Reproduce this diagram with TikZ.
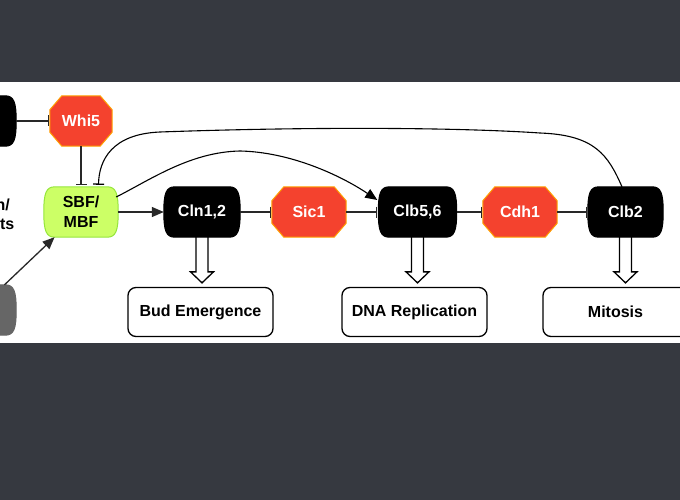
\documentclass[tikz,border=0pt]{standalone}
\usepackage{fontspec}
\setmainfont{Liberation Sans}
\usetikzlibrary{arrows.meta,calc}
\pgfdeclarelayer{background}
\pgfsetlayers{background,main}
\definecolor{bgdark}{RGB}{54,57,64}
\definecolor{octred}{RGB}{244,66,46}
\definecolor{octline}{RGB}{255,160,0}
\definecolor{sbfgreen}{RGB}{204,255,102}
\definecolor{sbfline}{RGB}{150,230,60}
\definecolor{graynode}{RGB}{102,102,102}
\definecolor{linegray}{RGB}{40,40,40}
\begin{document}
\begin{tikzpicture}[x=1pt,y=1pt,
  lbl/.style={font=\fontsize{16}{20}\selectfont\bfseries, inner sep=0pt, align=center},
  core/.style={lbl, minimum height=50pt, text=white},
  outbox/.style={lbl, draw=black, line width=1.3pt, rounded corners=8pt, minimum width=145pt, minimum height=49pt},
  conn/.style={line width=1.3pt, draw=linegray},
  act/.style={conn, -{Triangle[length=12pt,width=10pt]}},
  inh/.style={conn, -{Bar[width=11pt]}},
  thin/.style={line width=1.1pt, draw=black},
  hollow/.style={line width=1.3pt, draw=black, line join=miter}]
\useasboundingbox (0,0) rectangle (680,-500);

% nodes
\node[core, minimum width=76pt] (lblack) at (-22,-121) {};
\node[core, minimum width=62pt] (whi5) at (81,-121) {Whi5};
\node[core, minimum width=74pt, text=black] (sbf) at (81,-212) {SBF/\\MBF};
\node[core, minimum width=76pt] (gray) at (-22,-310) {};
\node[core, minimum width=76pt] (cln) at (202,-212) {Cln1,2};
\node[core, minimum width=74pt] (sic1) at (309,-212) {Sic1};
\node[core, minimum width=78pt] (clb56) at (417.5,-212) {Clb5,6};
\node[core, minimum width=74pt] (cdh1) at (520,-212) {Cdh1};
\node[core, minimum width=75pt] (clb2) at (625.5,-212) {Clb2};
\node[outbox] (bud) at (200.5,-312) {Bud Emergence};
\node[outbox] (dna) at (414.5,-312) {DNA Replication};
\node[outbox] (mit) at (615.5,-312) {Mitosis};
\node[lbl, anchor=base east] (txta) at (10,-210) {n/};
\node[lbl, anchor=base east] (txtb) at (14.5,-229) {ts};

\begin{pgfonlayer}{background}
  \fill[bgdark] (0,0) rectangle (680,-500);
  \fill[white] (0,-82) rectangle (680,-343);
  \foreach \n/\c/\d in {lblack/black/black, sbf/sbfgreen/sbfline, gray/graynode/graynode, cln/black/black, clb56/black/black, clb2/black/black}{
    \path[fill=\c, draw=\d, line width=1pt]
      ($(\n.north west)+(11,0)$) -- ($(\n.north east)+(-11,0)$)
      .. controls +(9,0) and +(0,18) .. (\n.east)
      .. controls +(0,-18) and +(9,0) .. ($(\n.south east)+(-11,0)$)
      -- ($(\n.south west)+(11,0)$)
      .. controls +(-9,0) and +(0,-18) .. (\n.west)
      .. controls +(0,18) and +(-9,0) .. ($(\n.north west)+(11,0)$) -- cycle;
  }
  \foreach \n in {whi5, sic1, cdh1}{
    \path[fill=octred, draw=octline, line width=1pt]
      ($(\n.north west)+(12,0)$) -- ($(\n.north east)+(-12,0)$)
      -- ($(\n.north east)+(0,-14)$) -- ($(\n.south east)+(0,14)$)
      -- ($(\n.south east)+(-12,0)$) -- ($(\n.south west)+(12,0)$)
      -- ($(\n.south west)+(0,14)$) -- ($(\n.north west)+(0,-14)$) -- cycle;
  }
\end{pgfonlayer}

% connectors
\draw[inh] (lblack) -- ($(whi5.west)+(-1,0)$);
\draw[inh, shorten >=2pt] (whi5) -- (sbf);
\draw[act] (gray) -- (sbf);
\draw[act] (sbf) -- (cln);
\draw[inh] (cln) -- ($(sic1.west)+(-1,0)$);
\draw[inh] (sic1) -- ($(clb56.west)+(-1,0)$);
\draw[inh] (clb56) -- ($(cdh1.west)+(-1,0)$);
\draw[inh] (cdh1) -- ($(clb2.west)+(-1,0)$);
\draw[thin, -{Triangle[length=12pt,width=10pt]}] ($(sbf.east)+(-2,15)$)
  .. controls (150,-180) and (190,-152) .. (240,-151)
  .. controls (290,-152) and (340,-175) .. ($(clb56.west)+(-1,12)$);
\draw[thin, -{Bar[width=11pt,line width=1.3pt]}] ($(clb2.north)+(-3.5,0)$)
  .. controls (608,-155) and (595,-135) .. (540,-133)
  .. controls (450,-127) and (300,-127) .. (160,-132)
  .. controls (112,-134) and (99,-160) .. ($(sbf.north)+(17.5,2)$);

% hollow arrows
\foreach \a/\b in {cln/bud, clb56/dna, clb2/mit}{
  \draw[hollow] let \p1=(\a.south), \p2=(\b.north) in
    (\x1-6pt,\y1) -- (\x1-6pt,\y2+15pt) -- (\x1-11.5pt,\y2+15pt) -- (\x1,\y2+4pt)
    -- (\x1+11.5pt,\y2+15pt) -- (\x1+6pt,\y2+15pt) -- (\x1+6pt,\y1);
}
\end{tikzpicture}
\end{document}
